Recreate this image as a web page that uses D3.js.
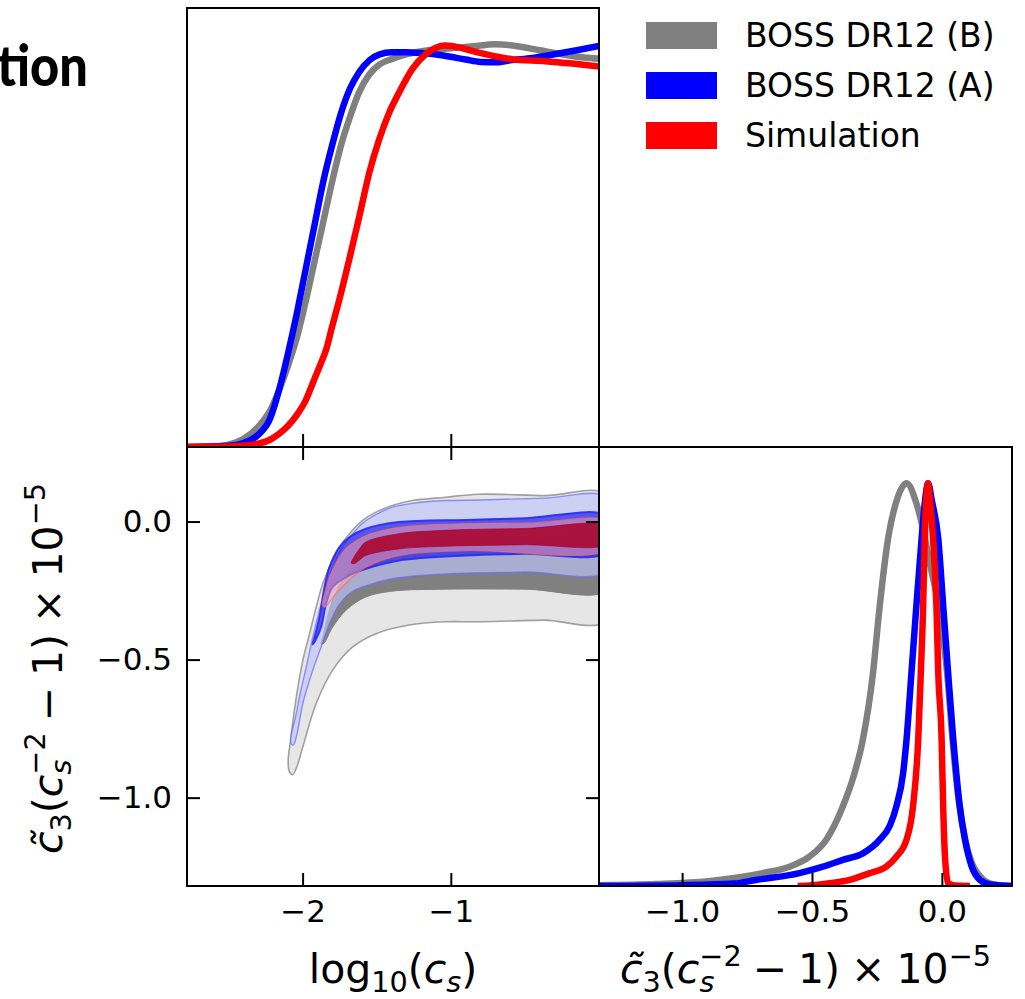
<!DOCTYPE html>
<html><head><meta charset="utf-8">
<script src="https://cdn.jsdelivr.net/npm/d3@7"></script>
<style>
html,body{margin:0;padding:0;background:#fff;}
svg text{font-family:"DejaVu Sans",sans-serif;}
</style></head>
<body><svg id="c" width="1025" height="999"></svg>
<script>
// ---------------- data ----------------
const seriesNames = ["BOSS DR12 (B)", "BOSS DR12 (A)", "Simulation"];
const seriesColors = ["#808080", "#0000ff", "#ff0000"];
const csTicks = [-2, -1];
const c3Ticks = [-1.0, -0.5, 0.0];

// 1D marginal of log10(cs) (normalised to peak 1)
const csB = [[-2.78,0],[-2.6,0.002],[-2.5,0.006],[-2.4,0.02],[-2.3,0.05],[-2.22,0.09],[-2.16,0.14],[-2.1,0.2],[-2.04,0.27],[-1.98,0.36],[-1.92,0.46],[-1.86,0.56],[-1.8,0.66],[-1.74,0.75],[-1.68,0.82],[-1.62,0.88],[-1.55,0.925],[-1.48,0.95],[-1.4,0.963],[-1.3,0.975],[-1.15,0.985],[-1.0,0.99],[-0.85,0.995],[-0.7,1.0],[-0.55,0.995],[-0.4,0.985],[-0.25,0.975],[-0.1,0.967],[0,0.964]];
const csA = [[-2.78,0],[-2.6,0.001],[-2.5,0.003],[-2.4,0.01],[-2.3,0.03],[-2.22,0.07],[-2.16,0.14],[-2.1,0.23],[-2.04,0.33],[-1.98,0.44],[-1.92,0.55],[-1.86,0.66],[-1.8,0.75],[-1.74,0.83],[-1.68,0.89],[-1.62,0.93],[-1.55,0.96],[-1.48,0.975],[-1.4,0.98],[-1.3,0.98],[-1.2,0.978],[-1.05,0.972],[-0.9,0.962],[-0.8,0.956],[-0.7,0.955],[-0.6,0.96],[-0.45,0.966],[-0.3,0.975],[-0.15,0.985],[0,0.996]];
const csSim = [[-2.78,0],[-2.5,0.001],[-2.4,0.003],[-2.3,0.008],[-2.22,0.018],[-2.154,0.034],[-2.1,0.052],[-2.042,0.078],[-1.98,0.115],[-1.931,0.159],[-1.88,0.205],[-1.841,0.242],[-1.8,0.3],[-1.752,0.366],[-1.685,0.466],[-1.617,0.573],[-1.55,0.681],[-1.483,0.764],[-1.416,0.83],[-1.349,0.88],[-1.26,0.938],[-1.17,0.975],[-1.036,0.997],[-0.92,0.99],[-0.812,0.979],[-0.7,0.97],[-0.589,0.963],[-0.364,0.958],[-0.18,0.952],[0,0.945]];

// 1D marginal of c3 (normalised to peak 1)
const c3B = [[-1.32,0.002],[-1.1,0.005],[-0.9,0.012],[-0.69,0.032],[-0.587,0.048],[-0.51,0.073],[-0.445,0.115],[-0.381,0.198],[-0.336,0.281],[-0.304,0.364],[-0.265,0.53],[-0.239,0.697],[-0.207,0.863],[-0.175,0.955],[-0.136,1.0],[-0.098,0.95],[-0.072,0.885],[-0.046,0.8],[-0.02,0.72],[0.0,0.64],[0.02,0.53],[0.04,0.37],[0.065,0.21],[0.09,0.115],[0.12,0.05],[0.14,0.03],[0.165,0.013],[0.2,0.004],[0.27,0]];
const c3A = [[-1.32,0],[-1.0,0.002],[-0.8,0.006],[-0.716,0.015],[-0.548,0.032],[-0.458,0.048],[-0.381,0.065],[-0.304,0.081],[-0.239,0.115],[-0.2,0.15],[-0.175,0.198],[-0.149,0.281],[-0.136,0.364],[-0.117,0.53],[-0.098,0.697],[-0.078,0.863],[-0.066,0.95],[-0.053,1.0],[-0.038,0.955],[-0.014,0.863],[0.005,0.697],[0.024,0.53],[0.044,0.364],[0.069,0.198],[0.089,0.115],[0.115,0.048],[0.147,0.015],[0.19,0.003],[0.27,0]];
const c3Sim = [[-0.555,0],[-0.5,0.002],[-0.432,0.007],[-0.355,0.015],[-0.278,0.032],[-0.214,0.048],[-0.175,0.073],[-0.136,0.115],[-0.111,0.198],[-0.091,0.364],[-0.081,0.53],[-0.072,0.697],[-0.066,0.863],[-0.06,0.96],[-0.053,1.0],[-0.046,0.96],[-0.034,0.863],[-0.021,0.697],[-0.014,0.53],[-0.001,0.364],[0.005,0.198],[0.012,0.073],[0.024,0.007],[0.05,0.001],[0.108,0]];

// 2D contours (log10 cs, c3): closed outlines of the 68% / 95% regions
const contB95 = [[0.06,0.094],[-0.364,0.094],[-0.812,0.099],[-1.036,0.088],[-1.26,0.076],[-1.394,0.058],[-1.506,0.034],[-1.595,0.004],[-1.685,-0.045],[-1.752,-0.093],[-1.808,-0.153],[-1.864,-0.225],[-1.908,-0.309],[-1.953,-0.406],[-1.998,-0.502],[-2.031,-0.598],[-2.058,-0.694],[-2.081,-0.791],[-2.097,-0.863],[-2.09,-0.905],[-2.068,-0.917],[-2.04,-0.89],[-1.998,-0.815],[-1.908,-0.658],[-1.797,-0.538],[-1.662,-0.454],[-1.505,-0.406],[-1.282,-0.375],[-1.036,-0.363],[-0.812,-0.363],[-0.589,-0.36],[-0.364,-0.357],[0.06,-0.357]];
const contB68 = [[0.06,-0.06],[-0.5,-0.065],[-1.0,-0.07],[-1.3,-0.085],[-1.5,-0.11],[-1.6,-0.14],[-1.7,-0.19],[-1.78,-0.26],[-1.83,-0.34],[-1.86,-0.41],[-1.875,-0.445],[-1.855,-0.44],[-1.8,-0.385],[-1.707,-0.321],[-1.573,-0.273],[-1.394,-0.252],[-1.036,-0.245],[-0.5,-0.245],[0.06,-0.248]];
const contA95 = [[0.06,0.085],[-0.364,0.085],[-0.812,0.078],[-1.036,0.076],[-1.26,0.066],[-1.394,0.052],[-1.506,0.025],[-1.595,-0.006],[-1.673,-0.051],[-1.74,-0.1],[-1.797,-0.165],[-1.841,-0.237],[-1.886,-0.321],[-1.931,-0.418],[-1.975,-0.526],[-2.016,-0.622],[-2.047,-0.706],[-2.076,-0.77],[-2.08,-0.8],[-2.063,-0.81],[-2.04,-0.775],[-1.998,-0.658],[-1.931,-0.538],[-1.875,-0.454],[-1.819,-0.37],[-1.752,-0.3],[-1.67,-0.255],[-1.595,-0.237],[-1.394,-0.207],[-1.036,-0.19],[-0.5,-0.183],[0.06,-0.177]];
const contA68 = [[0.06,0.018],[-0.5,0.012],[-0.9,0.006],[-1.349,-0.002],[-1.573,-0.026],[-1.685,-0.057],[-1.752,-0.093],[-1.819,-0.165],[-1.852,-0.237],[-1.886,-0.345],[-1.922,-0.425],[-1.933,-0.445],[-1.913,-0.43],[-1.875,-0.382],[-1.841,-0.297],[-1.797,-0.237],[-1.685,-0.195],[-1.572,-0.171],[-1.349,-0.141],[-0.901,-0.123],[-0.5,-0.117],[0.06,-0.11]];
const contS95 = [[0.06,-0.001],[-0.45,-0.005],[-0.901,-0.008],[-1.349,-0.021],[-1.573,-0.051],[-1.685,-0.087],[-1.752,-0.129],[-1.819,-0.201],[-1.85,-0.26],[-1.866,-0.3],[-1.852,-0.31],[-1.774,-0.261],[-1.685,-0.213],[-1.573,-0.165],[-1.349,-0.123],[-0.901,-0.105],[0.06,-0.099]];
const contS68 = [[0.06,-0.018],[-0.5,-0.025],[-1.0,-0.031],[-1.349,-0.044],[-1.573,-0.074],[-1.617,-0.099],[-1.66,-0.135],[-1.672,-0.15],[-1.655,-0.153],[-1.617,-0.14],[-1.573,-0.123],[-1.349,-0.099],[-1.0,-0.089],[-0.5,-0.084],[0.06,-0.08]];

// ---------------- layout ----------------
const svg = d3.select("#c");
const P = {
  tl:{x0:187,x1:599,y0:8,y1:447},
  bl:{x0:187,x1:599,y0:447,y1:886},
  br:{x0:599,x1:1012,y0:447,y1:886}
};
const xCs = d3.scaleLinear().domain([-2.78,0]).range([P.bl.x0,P.bl.x1]);
const yC3 = d3.scaleLinear().domain([-1.32,0.27]).range([P.bl.y1,P.bl.y0]);
const xC3 = d3.scaleLinear().domain([-1.32,0.27]).range([P.br.x0,P.br.x1]);
const yTop = d3.scaleLinear().domain([0,1.09]).range([P.tl.y1,P.tl.y0]);
const yBR = d3.scaleLinear().domain([0,1.09]).range([P.br.y1,P.br.y0]);

const defs = svg.append("defs");
Object.entries(P).forEach(([k,p])=>{
  defs.append("clipPath").attr("id","clip-"+k).append("rect")
    .attr("x",p.x0).attr("y",p.y0).attr("width",p.x1-p.x0).attr("height",p.y1-p.y0);
});

// title fragment (cut at the page edge, as in the reference)
svg.append("text").attr("x",-3).attr("y",86)
  .attr("textLength",91).attr("lengthAdjust","spacingAndGlyphs")
  .style("font-family","Lato, 'DejaVu Sans', sans-serif").style("font-weight","900")
  .style("font-size","57px").attr("fill","#000").text("tion");

// ---------- top-left: 1D log10(cs) ----------
const gTL = svg.append("g").attr("clip-path","url(#clip-tl)");
const lineTL = d3.line().x(d=>xCs(d[0])).y(d=>yTop(d[1])).curve(d3.curveMonotoneX);
[csB,csA,csSim].forEach((s,i)=>{
  gTL.append("path").attr("d",lineTL(s)).attr("fill","none")
    .attr("stroke",seriesColors[i]).attr("stroke-width",6.5).attr("stroke-linejoin","round");
});

// ---------- bottom-left: 2D contours ----------
const gBL = svg.append("g").attr("clip-path","url(#clip-bl)");
const area2d = d3.line().x(d=>xCs(d[0])).y(d=>yC3(d[1])).curve(d3.curveCatmullRomClosed.alpha(0.5));
const contours = [
  {d:contB95, fill:"#e6e6e6", fo:1, stroke:"#a0a0a0", sw:1.6, so:1},
  {d:contB68, fill:"#808080", fo:1, stroke:"#808080", sw:1, so:1},
  {d:contA95, fill:"rgb(190,196,250)", fo:0.65, stroke:"#6a6aff", sw:1.4, so:0.7},
  {d:contA68, fill:"rgb(20,20,235)", fo:0.65, stroke:"#2a2aee", sw:2, so:0.9},
  {d:contS95, fill:"rgb(255,160,160)", fo:0.5, stroke:"#ff6a6a", sw:1.3, so:0.7},
  {d:contS68, fill:"rgb(170,0,40)", fo:0.85, stroke:"rgb(170,0,40)", sw:0.8, so:0.8}
];
contours.forEach(c=>{
  gBL.append("path").attr("d",area2d(c.d)).attr("fill",c.fill).attr("fill-opacity",c.fo)
    .attr("stroke",c.stroke).attr("stroke-width",c.sw).attr("stroke-opacity",c.so);
});

// ---------- bottom-right: 1D c3 ----------
const gBR = svg.append("g").attr("clip-path","url(#clip-br)");
const lineBR = d3.line().x(d=>xC3(d[0])).y(d=>yBR(d[1])).curve(d3.curveMonotoneX);
[c3B,c3A,c3Sim].forEach((s,i)=>{
  gBR.append("path").attr("d",lineBR(s)).attr("fill","none")
    .attr("stroke",seriesColors[i]).attr("stroke-width",6.5).attr("stroke-linejoin","round");
});

// ---------- axes ----------
const TL = 13, FS = 31;
function styleAxis(g, labels){
  g.select(".domain").remove();
  g.selectAll(".tick line").attr("stroke","#000").attr("stroke-width",2);
  g.selectAll(".tick text").attr("fill","#000").style("font-size",FS+"px")
   .style("font-family","'DejaVu Sans',sans-serif");
  if(!labels) g.selectAll(".tick text").remove();
}
const fmt1 = d3.format(".1f"), fmt0 = d3.format("d");
styleAxis(svg.append("g").attr("transform",`translate(0,${P.tl.y1})`)
  .call(d3.axisBottom(xCs).tickValues(csTicks).tickSize(-TL).tickSizeOuter(0)), false);
styleAxis(svg.append("g").attr("transform",`translate(0,${P.bl.y1})`)
  .call(d3.axisBottom(xCs).tickValues(csTicks).tickFormat(fmt0).tickSize(-TL).tickSizeOuter(0).tickPadding(14)), true);
styleAxis(svg.append("g").attr("transform",`translate(0,${P.bl.y0})`)
  .call(d3.axisTop(xCs).tickValues(csTicks).tickSize(-TL).tickSizeOuter(0)), false);
styleAxis(svg.append("g").attr("transform",`translate(${P.bl.x0},0)`)
  .call(d3.axisLeft(yC3).tickValues(c3Ticks).tickFormat(fmt1).tickSize(-TL).tickSizeOuter(0).tickPadding(15)), true);
styleAxis(svg.append("g").attr("transform",`translate(${P.bl.x1},0)`)
  .call(d3.axisRight(yC3).tickValues(c3Ticks).tickSize(-TL).tickSizeOuter(0)), false);
styleAxis(svg.append("g").attr("transform",`translate(0,${P.br.y1})`)
  .call(d3.axisBottom(xC3).tickValues(c3Ticks).tickFormat(fmt1).tickSize(-TL).tickSizeOuter(0).tickPadding(14)), true);

// frames
Object.values(P).forEach(p=>{
  svg.append("rect").attr("x",p.x0).attr("y",p.y0).attr("width",p.x1-p.x0).attr("height",p.y1-p.y0)
    .attr("fill","none").attr("stroke","#000").attr("stroke-width",2);
});

// ---------- axis labels ----------
const LFS = 41, GAP = 11;
function c3Label(t){
  t.style("font-size",LFS+"px");
  t.append("tspan").style("font-style","italic").text("c\u0303");
  t.append("tspan").attr("dy",9).style("font-size","0.7em").text("3");
  t.append("tspan").attr("dy",-9).text("(");
  t.append("tspan").style("font-style","italic").text("c");
  t.append("tspan").attr("dy",9).style("font-size","0.7em").style("font-style","italic").text("s");
  t.append("tspan").attr("dx",-15).attr("dy",-26).style("font-size","0.7em").text("\u22122");
  t.append("tspan").attr("dx",GAP).attr("dy",17).text("\u2212");
  t.append("tspan").attr("dx",GAP).text("1)");
  t.append("tspan").attr("dx",GAP).text("\u00d7");
  t.append("tspan").attr("dx",GAP).text("10");
  t.append("tspan").attr("dy",-17).style("font-size","0.7em").text("\u22125");
}
const xl = svg.append("text").attr("x",(P.bl.x0+P.bl.x1)/2).attr("y",983).attr("text-anchor","middle")
  .style("font-size",LFS+"px").attr("fill","#000");
xl.append("tspan").text("log");
xl.append("tspan").attr("dy",9).style("font-size","0.7em").text("10");
xl.append("tspan").attr("dy",-9).text("(");
xl.append("tspan").style("font-style","italic").text("c");
xl.append("tspan").attr("dy",9).style("font-size","0.7em").style("font-style","italic").text("s");
xl.append("tspan").attr("dy",-9).text(")");

c3Label(svg.append("text").attr("x",(P.br.x0+P.br.x1)/2).attr("y",983).attr("text-anchor","middle").attr("fill","#000"));
c3Label(svg.append("text").attr("transform",`translate(62,${(P.bl.y0+P.bl.y1)/2+2}) rotate(-90)`)
  .attr("text-anchor","middle").attr("fill","#000"));

// ---------- legend ----------
const lg = svg.append("g");
seriesNames.forEach((n,i)=>{
  const cy = 35.5 + i*50;
  lg.append("rect").attr("x",646).attr("y",cy-13.5).attr("width",71).attr("height",27).attr("fill",seriesColors[i]);
  lg.append("text").attr("x",745).attr("y",cy+11.5).style("font-size","33px").attr("fill","#000").text(n);
});
</script></body></html>
